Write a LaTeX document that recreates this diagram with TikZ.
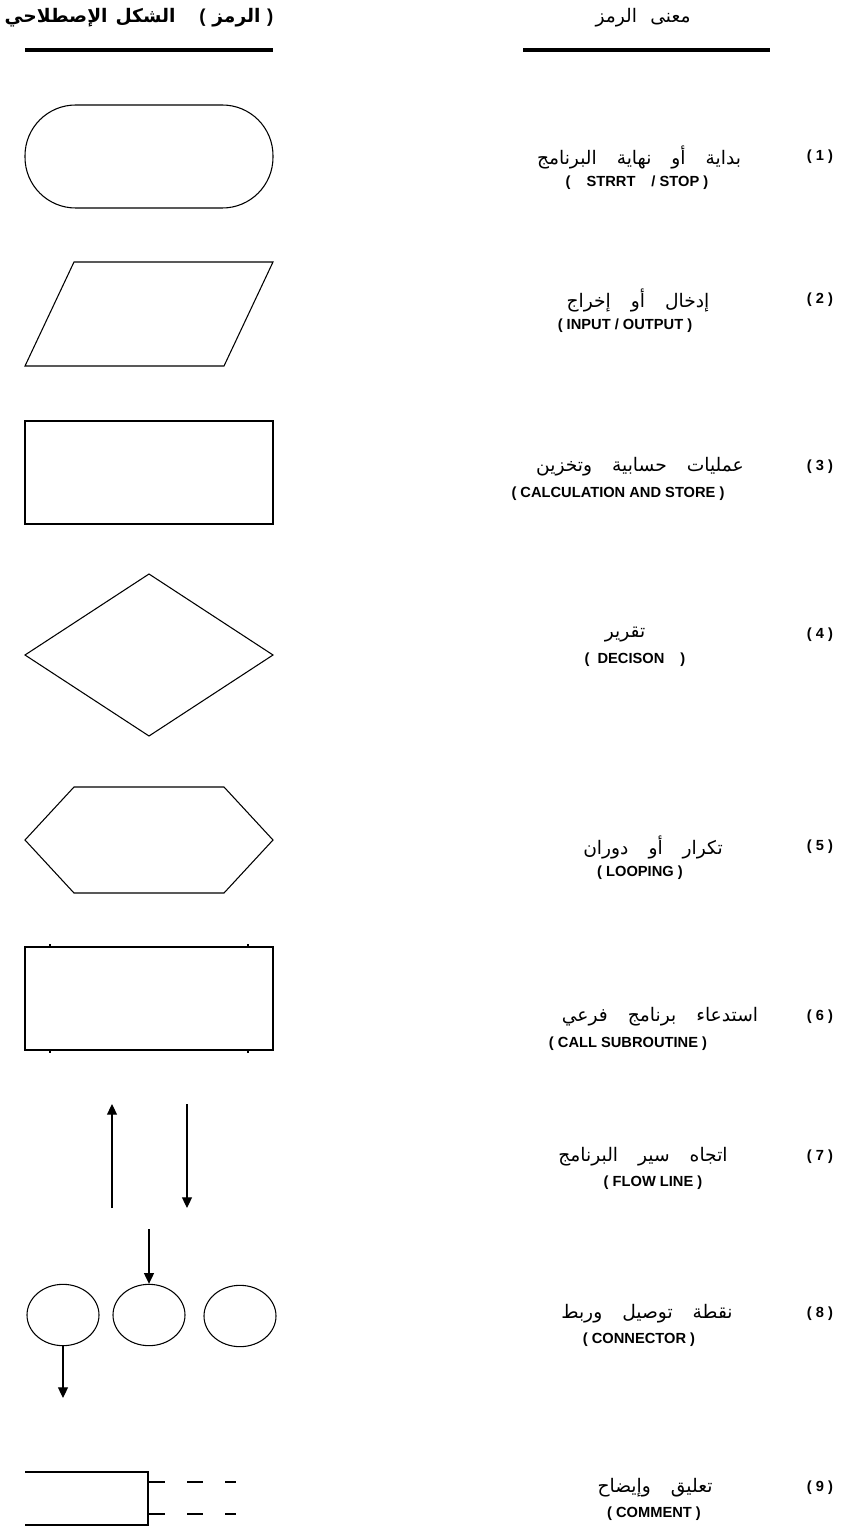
\documentclass[tikz,border=0pt]{standalone}
\usepackage{fontspec}
\setmainfont{Liberation Sans}
\newfontfamily\arabicfont[Script=Arabic]{DejaVu Sans}
\TeXXeTstate=1
\usepackage{tikz}
\usetikzlibrary{arrows.meta,shapes.geometric}
\newcommand{\artext}[1]{{\arabicfont\beginR #1\endR}}
\newcommand{\wgap}{\hspace{15pt}}
\tikzset{
  sym/.style={draw=black, line width=0.8pt, line join=miter},
  symthick/.style={draw=black, line width=1.2pt},
  heavy/.style={draw=black, line width=1.8pt},
  rule/.style={draw=black, line width=2.4pt},
  flow/.style={draw=black, line width=0.8pt, -{Triangle[length=8pt,width=7.5pt]}},
  conn/.style={draw=black, ellipse, line width=0.8pt, minimum width=54pt, minimum height=46pt, inner sep=0pt},
  ar/.style={font=\fontsize{14}{16}\selectfont, inner sep=0pt},
  en/.style={font=\fontsize{11}{13}\selectfont\bfseries, inner sep=0pt},
  head/.style={font=\fontsize{14}{16}\selectfont\bfseries, inner sep=0pt},
  headr/.style={font=\fontsize{14}{16}\selectfont, inner sep=0pt},
}
\begin{document}
\begin{tikzpicture}[x=0.75pt,y=-0.75pt]
  \useasboundingbox (0,0) rectangle (845,1533);

  % headings
  \node[head] (hsym) at (139,18) {\artext{الشكل\hspace{6pt}الإصطلاحي}\hspace{18pt}(\hspace{5pt}\artext{الرمز}\hspace{5pt})};
  \node[headr] (hmean) at (643,18) {\artext{معنى\hspace{10pt}الرمز}};
  \draw[rule] (25,50) -- (273,50);
  \draw[rule] (523,50) -- (770,50);

  % symbols
  \draw[sym, rounded corners=38pt] (25,105) rectangle (273,208);
  \draw[sym] (74,262) -- (273,262) -- (224,366) -- (25,366) -- cycle;
  \draw[symthick] (25,421) rectangle (273,524);
  \draw[sym] (149,574) -- (273,655) -- (149,736) -- (25,655) -- cycle;
  \draw[sym] (25,840) -- (74,787) -- (224,787) -- (273,840) -- (224,893) -- (74,893) -- cycle;
  \draw[symthick] (25,947) rectangle (273,1050);
  \foreach \x in {50,248} {
    \draw[sym] (\x,944) -- (\x,947);
    \draw[sym] (\x,1050) -- (\x,1053);
  }

  % flow lines
  \coordinate (upA) at (112,1208);
  \coordinate (upB) at (112,1104);
  \coordinate (dnA) at (187,1104);
  \coordinate (dnB) at (187,1208);
  \draw[flow] (upA) -- (upB);
  \draw[flow] (dnA) -- (dnB);

  % connectors
  \node[conn] (c1) at (63,1315) {};
  \node[conn] (c2) at (149,1315) {};
  \node[conn] (c3) at (240,1316) {};
  \coordinate (cin) at (149,1229);
  \coordinate (cout) at (63,1398);
  \draw[flow] (cin) -- (c2.north);
  \draw[flow] (c1.south) -- (cout);

  % comment
  \draw[heavy] (25,1472) -- (148,1472) -- (148,1525) -- (25,1525);
  \foreach \y in {1482,1514} {
    \draw[heavy] (148,\y) -- (165,\y) (187,\y) -- (203,\y) (225,\y) -- (236,\y);
  }

  % meanings
  \node[en] (n1) at (820,157) {( 1 )};
  \node[ar] (a1) at (639,157) {\artext{بداية\wgap أو\wgap نهاية\wgap البرنامج}};
  \node[en] (e1) at (637,183) {(\hspace{12pt}STRRT\hspace{12pt}/ STOP )};

  \node[en] (n2) at (820,300) {( 2 )};
  \node[ar] (a2) at (638,300) {\artext{إدخال\wgap أو\wgap إخراج}};
  \node[en] (e2) at (625,326) {( INPUT / OUTPUT )};

  \node[en] (n3) at (820,467) {( 3 )};
  \node[ar] (a3) at (640,467) {\artext{عمليات\wgap حسابية\wgap وتخزين}};
  \node[en] (e3) at (618,494) {( CALCULATION AND STORE )};

  \node[en] (n4) at (820,635) {( 4 )};
  \node[ar] (a4) at (625,635) {\artext{تقرير}};
  \node[en] (e4) at (635,660) {(\hspace{6pt}DECISON\hspace{12pt})};

  \node[en] (n5) at (820,847) {( 5 )};
  \node[ar] (a5) at (653,847) {\artext{تكرار\wgap أو\wgap دوران}};
  \node[en] (e5) at (640,873) {( LOOPING )};

  \node[en] (n6) at (820,1017) {( 6 )};
  \node[ar] (a6) at (660,1017) {\artext{استدعاء\wgap برنامج\wgap فرعي}};
  \node[en] (e6) at (628,1044) {( CALL SUBROUTINE )};

  \node[en] (n7) at (820,1157) {( 7 )};
  \node[ar] (a7) at (643,1157) {\artext{اتجاه\wgap سير\wgap البرنامج}};
  \node[en] (e7) at (653,1183) {( FLOW LINE )};

  \node[en] (n8) at (820,1314) {( 8 )};
  \node[ar] (a8) at (647,1314) {\artext{نقطة\wgap توصيل\wgap وربط}};
  \node[en] (e8) at (639,1340) {( CONNECTOR )};

  \node[en] (n9) at (820,1488) {( 9 )};
  \node[ar] (a9) at (655,1488) {\artext{تعليق\wgap وإيضاح}};
  \node[en] (e9) at (654,1514) {( COMMENT )};
\end{tikzpicture}
\end{document}
